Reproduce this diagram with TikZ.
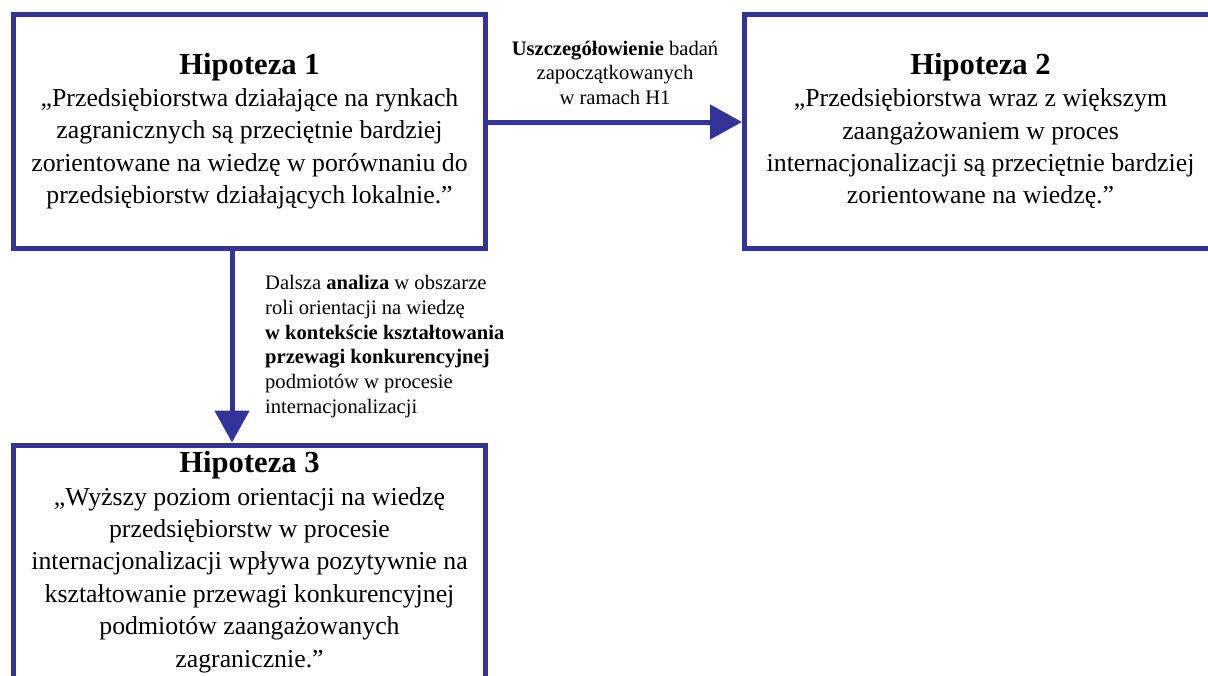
\documentclass[tikz,border=0pt]{standalone}
\usepackage{fontspec}
\setmainfont{Liberation Serif}
\usetikzlibrary{arrows.meta,positioning}
\definecolor{hypblue}{RGB}{51,51,153}

\tikzset{
  hypbox/.style={draw=hypblue,line width=2.5pt,minimum width=236pt,minimum height=117pt,
    align=center,inner sep=0pt,font=\fontsize{12.9}{16.2}\selectfont},
  flow/.style={hypblue,line width=2.5pt,-{Triangle[length=16pt,width=17pt]}},
  note/.style={text=black,font=\fontsize{10.3}{12.4}\selectfont}
}
\newcommand{\hyptitle}[1]{{\fontsize{15.3}{18}\selectfont\bfseries #1}}

\begin{document}
\begin{tikzpicture}[x=0.5pt,y=-0.5pt]
  \useasboundingbox (0,0) rectangle (1208,675);
  % the three hypotheses
  \node[hypbox] (h1) at (249.5,131) {\hyptitle{Hipoteza 1}\\
    „Przedsiębiorstwa działające na rynkach\\
    zagranicznych są przeciętnie bardziej\\
    zorientowane na wiedzę w porównaniu do\\
    przedsiębiorstw działających lokalnie.”};
  \node[hypbox] (h2) at (980.5,131) {\hyptitle{Hipoteza 2}\\
    „Przedsiębiorstwa wraz z większym\\
    zaangażowaniem w proces\\
    internacjonalizacji są przeciętnie bardziej\\
    zorientowane na wiedzę.”};
  \node[hypbox] (h3) at (249.5,562) {\hyptitle{Hipoteza 3}\\
    „Wyższy poziom orientacji na wiedzę\\
    przedsiębiorstw w procesie\\
    internacjonalizacji wpływa pozytywnie na\\
    kształtowanie przewagi konkurencyjnej\\
    podmiotów zaangażowanych\\
    zagranicznie.”};
  % links
  \draw[flow] ([yshift=4.5pt]h1.east) -- ([yshift=4.5pt]h2.west)
    node[midway,above=4pt,note,align=center] (n12) {\textbf{Uszczegółowienie} badań\\
      zapoczątkowanych\\ w ramach H1};
  \draw[flow] ([xshift=-8.75pt]h1.south) -- ([xshift=-8.75pt]h3.north)
    node[midway,right=12pt,note,align=left] (n13) {Dalsza \textbf{analiza} w obszarze\\
      roli orientacji na wiedzę\\
      \textbf{w kontekście kształtowania}\\
      \textbf{przewagi konkurencyjnej}\\
      podmiotów w procesie\\
      internacjonalizacji};
\end{tikzpicture}
\end{document}
